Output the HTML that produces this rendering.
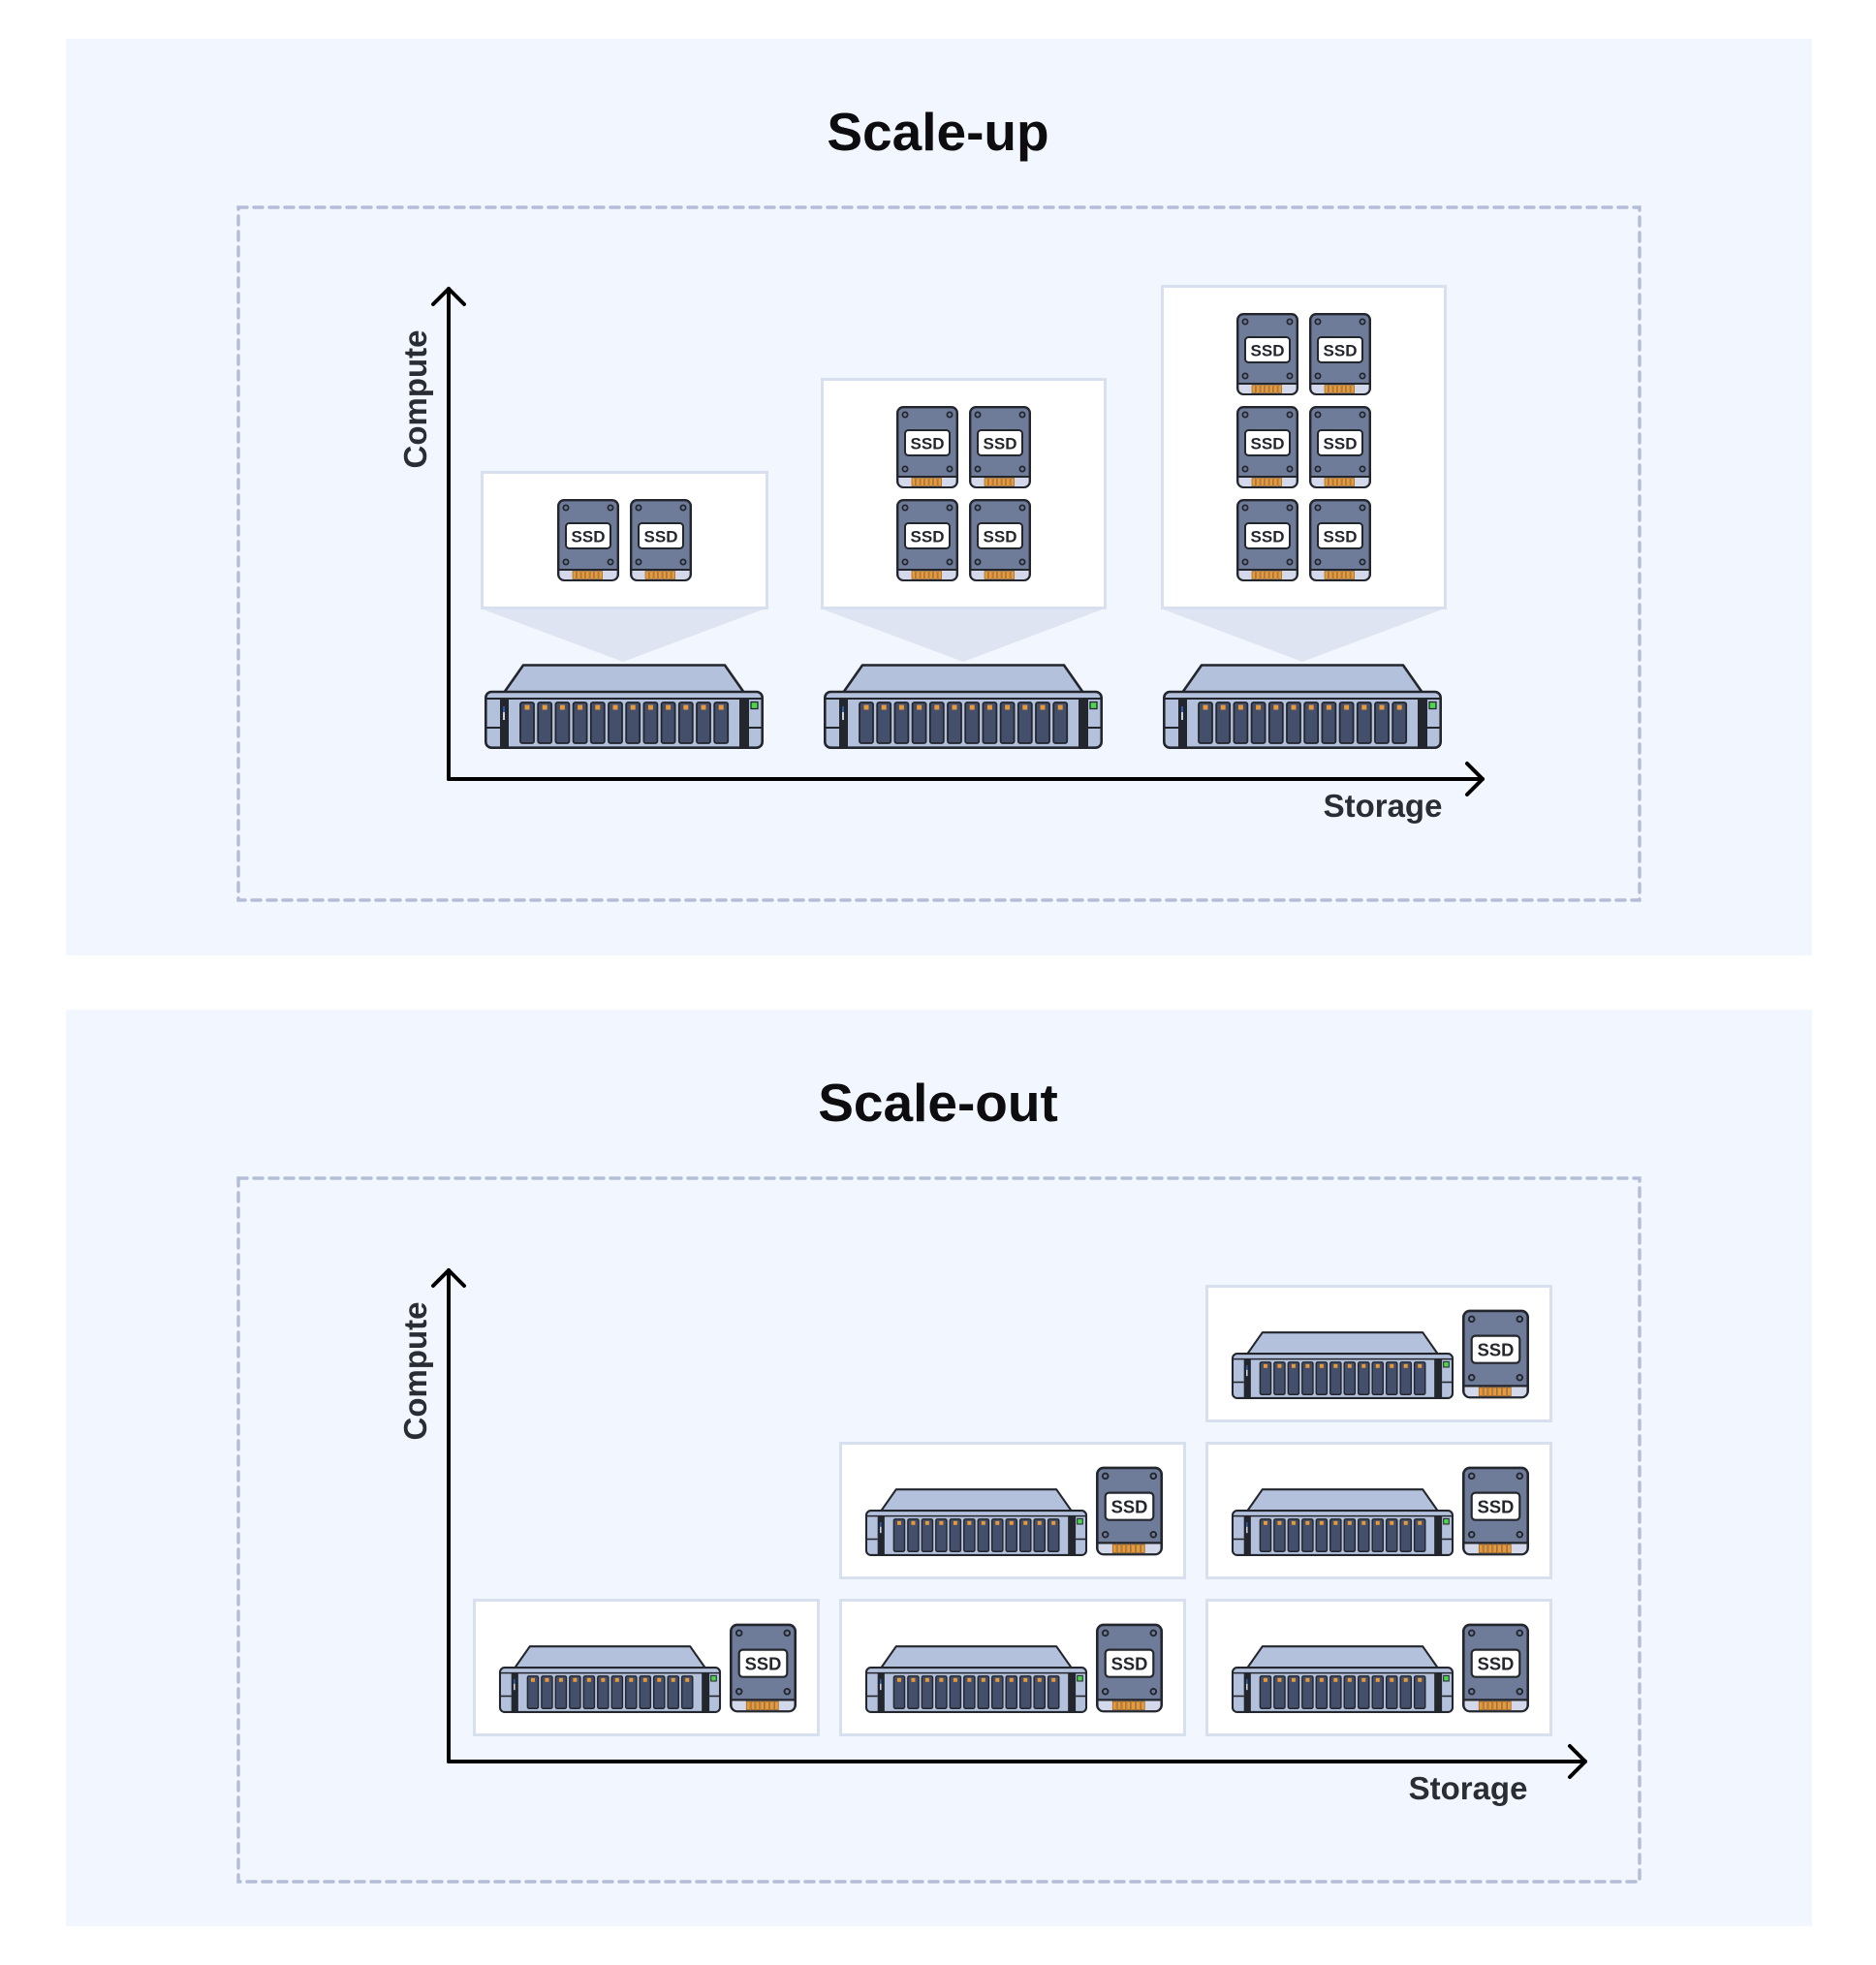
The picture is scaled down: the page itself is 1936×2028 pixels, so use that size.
<!DOCTYPE html>
<html><head><meta charset="utf-8"><style>
html,body{margin:0;padding:0;background:#fff;}
svg{display:block;}
text{font-family:"Liberation Sans",sans-serif;}
</style></head><body>
<svg width="1936" height="2028" viewBox="0 0 1936 2028" xmlns="http://www.w3.org/2000/svg">
<defs>
<symbol id="ssd" viewBox="0 0 64 85" overflow="visible">
  <rect x="1.2" y="1.2" width="61.6" height="82.6" rx="6" fill="#6e7b99" stroke="#23262c" stroke-width="2.4"/>
  <path d="M2.4 73 H61.6 V78 a5 5 0 0 1 -5 5 H7.4 a5 5 0 0 1 -5 -5 Z" fill="#d3d9ea"/>
  <line x1="1.2" y1="73" x2="62.8" y2="73" stroke="#23262c" stroke-width="2"/>
  <g fill="#e8993a" stroke="#8a5a1c" stroke-width="0.6">
    <rect x="16" y="74.5" width="3.6" height="8"/><rect x="20.5" y="74.5" width="3.6" height="8"/><rect x="25" y="74.5" width="3.6" height="8"/><rect x="29.5" y="74.5" width="3.6" height="8"/><rect x="34" y="74.5" width="3.6" height="8"/><rect x="38.5" y="74.5" width="3.6" height="8"/><rect x="43" y="74.5" width="3.6" height="8"/>
  </g>
  <g fill="none" stroke="#23262c" stroke-width="1.8">
    <circle cx="9" cy="9" r="2.6"/><circle cx="55" cy="9" r="2.6"/><circle cx="9" cy="65" r="2.6"/><circle cx="55" cy="65" r="2.6"/>
  </g>
  <rect x="9" y="25" width="46" height="26" rx="3.5" fill="#fff" stroke="#23262c" stroke-width="2"/>
  <text x="32" y="44.5" text-anchor="middle" font-size="17" font-weight="bold" fill="#23262c">SSD</text>
</symbol>
<symbol id="srv" viewBox="0 0 288 88" overflow="visible">
  <path d="M20 30 L40 1.5 H248 L268 30 Z" fill="#b4c1dc" stroke="#23262c" stroke-width="2.6" stroke-linejoin="round"/>
  <rect x="1.3" y="29" width="285.4" height="57.7" rx="6" fill="#b4c1dc" stroke="#23262c" stroke-width="2.6"/>
  <line x1="2" y1="36" x2="286" y2="36" stroke="#23262c" stroke-width="2"/>
  <rect x="16" y="36" width="9" height="50" fill="#23262c"/>
  <rect x="263" y="36" width="10" height="50" fill="#23262c"/>
  <line x1="2" y1="66" x2="16" y2="66" stroke="#23262c" stroke-width="2"/>
  <line x1="273" y1="66" x2="286" y2="66" stroke="#23262c" stroke-width="2"/>
  <line x1="20" y1="44" x2="20" y2="58" stroke="#2f6fe0" stroke-width="1.5"/>
  <line x1="20" y1="50" x2="20" y2="58" stroke="#fff" stroke-width="1.5"/>
  <rect x="275" y="39.5" width="7" height="7" fill="#4cd64c" stroke="#23262c" stroke-width="1.3"/>
  <g fill="#434f6b" stroke="#23262c" stroke-width="1.8">
    <rect x="37" y="40" width="14" height="42" rx="2"/><rect x="55.2" y="40" width="14" height="42" rx="2"/><rect x="73.4" y="40" width="14" height="42" rx="2"/><rect x="91.6" y="40" width="14" height="42" rx="2"/><rect x="109.8" y="40" width="14" height="42" rx="2"/><rect x="128" y="40" width="14" height="42" rx="2"/><rect x="146.2" y="40" width="14" height="42" rx="2"/><rect x="164.4" y="40" width="14" height="42" rx="2"/><rect x="182.6" y="40" width="14" height="42" rx="2"/><rect x="200.8" y="40" width="14" height="42" rx="2"/><rect x="219" y="40" width="14" height="42" rx="2"/><rect x="237.2" y="40" width="14" height="42" rx="2"/>
  </g>
  <g fill="#e8993a">
    <rect x="41.5" y="42.5" width="5" height="5"/><rect x="59.7" y="42.5" width="5" height="5"/><rect x="77.9" y="42.5" width="5" height="5"/><rect x="96.1" y="42.5" width="5" height="5"/><rect x="114.3" y="42.5" width="5" height="5"/><rect x="132.5" y="42.5" width="5" height="5"/><rect x="150.7" y="42.5" width="5" height="5"/><rect x="168.9" y="42.5" width="5" height="5"/><rect x="187.1" y="42.5" width="5" height="5"/><rect x="205.3" y="42.5" width="5" height="5"/><rect x="223.5" y="42.5" width="5" height="5"/><rect x="241.7" y="42.5" width="5" height="5"/>
  </g>
</symbol>
<symbol id="cell" viewBox="0 0 358 142" overflow="visible">
  <rect x="1.5" y="1.5" width="355" height="139" fill="#fff" stroke="#d8dfee" stroke-width="3"/>
  <use href="#srv" x="26" y="48" width="231" height="70"/>
  <use href="#ssd" x="265" y="25" width="69" height="93"/>
</symbol>
</defs>

<rect x="68" y="40" width="1802" height="946" fill="#f2f6fe"/>
<rect x="68" y="1042" width="1802" height="946" fill="#f2f6fe"/>

<g fill="none" stroke="#b3bdd7" stroke-width="3.4" stroke-dasharray="9 7" stroke-linecap="round">
  <rect x="246" y="214" width="1446" height="715"/>
  <rect x="246" y="1216" width="1446" height="726"/>
</g>

<text x="968" y="155" text-anchor="middle" font-size="55" font-weight="bold" fill="#0d0d0f">Scale-up</text>
<text x="968" y="1157" text-anchor="middle" font-size="55" font-weight="bold" fill="#0d0d0f">Scale-out</text>

<g>
  <path d="M496 628 L643 683 L790 628 Z" fill="#dfe4f2"/>
  <path d="M847 628 L994 683 L1140 628 Z" fill="#dfe4f2"/>
  <path d="M1198 628 L1344 683 L1491 628 Z" fill="#dfe4f2"/>
  <rect x="497.5" y="487.5" width="294" height="140" fill="#fff" stroke="#d8dfee" stroke-width="3"/>
  <rect x="848.5" y="391.5" width="292" height="236" fill="#fff" stroke="#d8dfee" stroke-width="3"/>
  <rect x="1199.5" y="295.5" width="292" height="332" fill="#fff" stroke="#d8dfee" stroke-width="3"/>

  <use href="#ssd" x="575" y="515" width="64" height="85"/>
  <use href="#ssd" x="650" y="515" width="64" height="85"/>

  <use href="#ssd" x="925" y="419" width="64" height="85"/>
  <use href="#ssd" x="1000" y="419" width="64" height="85"/>
  <use href="#ssd" x="925" y="515" width="64" height="85"/>
  <use href="#ssd" x="1000" y="515" width="64" height="85"/>

  <use href="#ssd" x="1276" y="323" width="64" height="85"/>
  <use href="#ssd" x="1351" y="323" width="64" height="85"/>
  <use href="#ssd" x="1276" y="419" width="64" height="85"/>
  <use href="#ssd" x="1351" y="419" width="64" height="85"/>
  <use href="#ssd" x="1276" y="515" width="64" height="85"/>
  <use href="#ssd" x="1351" y="515" width="64" height="85"/>

  <use href="#srv" x="500" y="685" width="288" height="88"/>
  <use href="#srv" x="850" y="685" width="288" height="88"/>
  <use href="#srv" x="1200" y="685" width="288" height="88"/>

  <g fill="none" stroke="#000" stroke-width="4" stroke-linecap="round" stroke-linejoin="round">
    <path d="M463 804 V298"/>
    <path d="M447 314 L463 298 L479 314"/>
    <path d="M463 804 H1530"/>
    <path d="M1514 788 L1530 804 L1514 820"/>
  </g>
  <text x="440" y="412" text-anchor="middle" font-size="33" font-weight="bold" fill="#2a2d33" transform="rotate(-90 440 412)">Compute</text>
  <text x="1427" y="843" text-anchor="middle" font-size="33" font-weight="bold" fill="#2a2d33">Storage</text>
</g>

<g>
  <use href="#cell" x="488" y="1650" width="358" height="142"/>
  <use href="#cell" x="866" y="1650" width="358" height="142"/>
  <use href="#cell" x="1244" y="1650" width="358" height="142"/>
  <use href="#cell" x="866" y="1488" width="358" height="142"/>
  <use href="#cell" x="1244" y="1488" width="358" height="142"/>
  <use href="#cell" x="1244" y="1326" width="358" height="142"/>

  <g fill="none" stroke="#000" stroke-width="4" stroke-linecap="round" stroke-linejoin="round">
    <path d="M463 1818 V1311"/>
    <path d="M447 1327 L463 1311 L479 1327"/>
    <path d="M463 1818 H1636"/>
    <path d="M1620 1802 L1636 1818 L1620 1834"/>
  </g>
  <text x="440" y="1415" text-anchor="middle" font-size="33" font-weight="bold" fill="#2a2d33" transform="rotate(-90 440 1415)">Compute</text>
  <text x="1515" y="1857" text-anchor="middle" font-size="33" font-weight="bold" fill="#2a2d33">Storage</text>
</g>
</svg>
</body></html>
